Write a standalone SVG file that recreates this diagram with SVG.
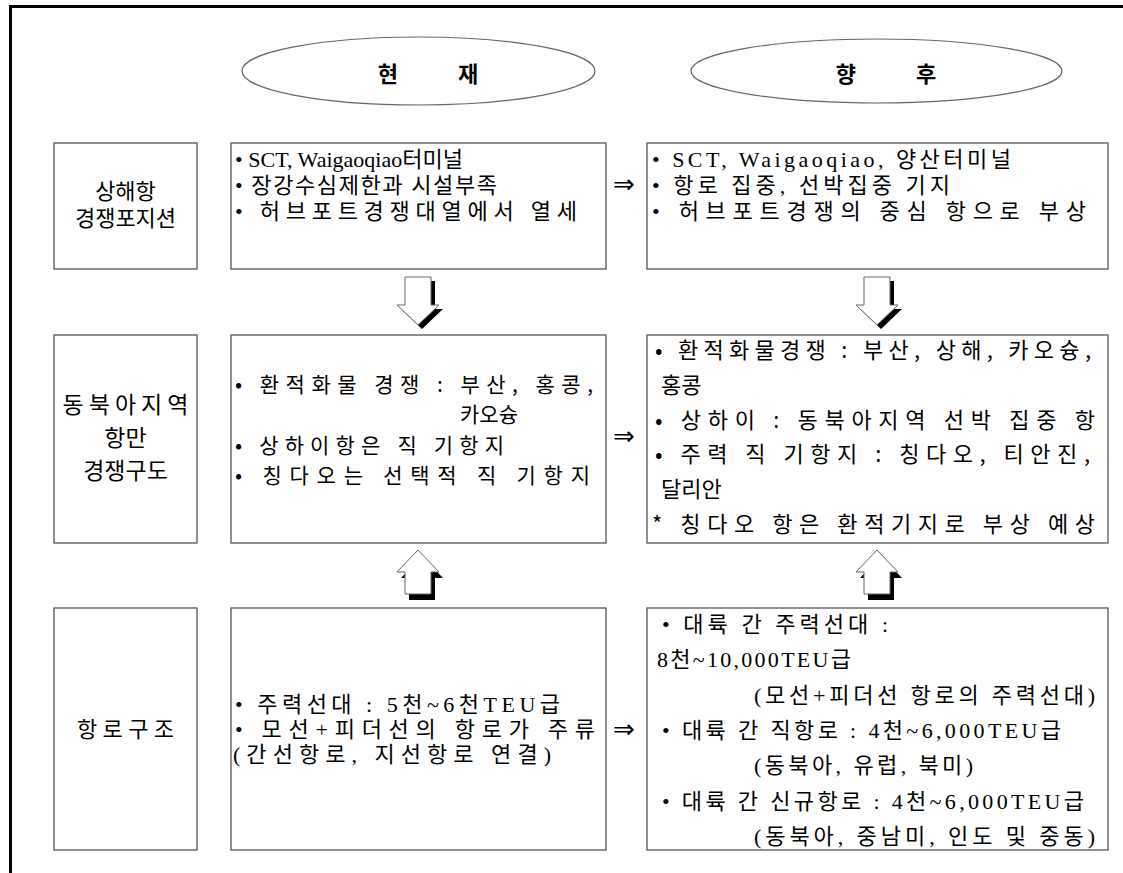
<svg xmlns="http://www.w3.org/2000/svg" width="1123" height="873" viewBox="0 0 1123 873">
<style>
.box{fill:#fff;stroke:#555;stroke-width:1.3}
.ell{fill:#fff;stroke:#666;stroke-width:1.2}
.ser{font-family:'Liberation Serif','Noto Sans CJK KR',serif;font-size:22px;fill:#000}
.gul{font-family:'Noto Sans CJK KR','Liberation Sans',sans-serif;font-size:22px;fill:#000}
.ttl{font-family:'Noto Sans CJK KR',sans-serif;font-size:22px;font-weight:700;fill:#000}
.mid{text-anchor:middle}
.imp{font-family:'DejaVu Sans',sans-serif;font-size:26px;fill:#000}
.sh{fill:#000}
.ar{fill:#fff;stroke:#666;stroke-width:1}
</style>
<defs>
<polygon id="down" points="-13,0 13,0 13,28 21,28 0,48 -21,28 -13,28"/>
<polygon id="up" points="0,0 21,22 13,22 13,44 -13,44 -13,22 -21,22"/>
</defs>
<rect width="1123" height="873" fill="#fff"/>
<g id="frame">
<line x1="9" y1="6.5" x2="1123" y2="6.5" stroke="#000" stroke-width="3"/>
<line x1="10.5" y1="5" x2="10.5" y2="873" stroke="#000" stroke-width="3"/>
</g>
<g id="head-now">
<ellipse class="ell" cx="418.5" cy="71" rx="176.5" ry="34"/>
<text class="ttl mid" x="428" y="82" word-spacing="55">현 재</text>
</g>
<g id="head-future">
<ellipse class="ell" cx="876.5" cy="71" rx="185.5" ry="32"/>
<text class="ttl mid" x="886" y="82" word-spacing="55">향 후</text>
</g>
<g id="label-shanghai">
<rect class="box" x="54" y="143" width="143" height="126"/>
<text class="ser mid" x="125.5" y="199">상해항</text>
<text class="ser mid" x="125.5" y="226" textLength="101" lengthAdjust="spacing">경쟁포지션</text>
</g>
<g id="now-shanghai">
<rect class="box" x="231" y="143" width="375" height="126"/>
<text class="ser" x="235" y="167" textLength="228" lengthAdjust="spacing">• SCT, Waigaoqiao터미널</text>
<text class="ser" x="235" y="193" textLength="262" lengthAdjust="spacing">• 장강수심제한과 시설부족</text>
<text class="ser" x="235" y="219" textLength="342" lengthAdjust="spacing">• 허브포트경쟁대열에서 열세</text>
</g>
<g id="future-shanghai">
<rect class="box" x="647" y="143" width="461" height="126"/>
<text class="ser" x="652" y="167" textLength="359" lengthAdjust="spacing">• SCT, Waigaoqiao, 양산터미널</text>
<text class="ser" x="652" y="193" textLength="298" lengthAdjust="spacing">• 항로 집중, 선박집중 기지</text>
<text class="ser" x="652" y="219" textLength="434" lengthAdjust="spacing">• 허브포트경쟁의 중심 항으로 부상</text>
</g>
<g id="label-northeast">
<rect class="box" x="54" y="335" width="143" height="208"/>
<text class="gul mid" x="125.5" y="413" style="font-size:23px" textLength="126" lengthAdjust="spacing">동북아지역</text>
<text class="gul mid" x="125.5" y="446" style="font-size:23px">항만</text>
<text class="gul mid" x="125.5" y="479" style="font-size:23px">경쟁구도</text>
</g>
<g id="now-northeast">
<rect class="box" x="231" y="335" width="375" height="208"/>
<text class="gul" x="235" y="392" style="font-size:21px" textLength="358" lengthAdjust="spacing">• 환적화물 경쟁 : 부산, 홍콩,</text>
<text class="gul" x="460" y="422" style="font-size:21px">카오슝</text>
<text class="gul" x="235" y="453" style="font-size:21px" textLength="269" lengthAdjust="spacing">• 상하이항은 직 기항지</text>
<text class="gul" x="235" y="483" style="font-size:21px" textLength="355" lengthAdjust="spacing">• 칭다오는 선택적 직 기항지</text>
</g>
<g id="future-northeast">
<rect class="box" x="647" y="335" width="461" height="208"/>
<text class="gul" x="655" y="358" textLength="436" lengthAdjust="spacing">• 환적화물경쟁 : 부산, 상해, 카오슝,</text>
<text class="gul" x="661" y="393">홍콩</text>
<text class="gul" x="655" y="428" textLength="440" lengthAdjust="spacing">• 상하이 : 동북아지역 선박 집중 항</text>
<text class="gul" x="655" y="462" textLength="435" lengthAdjust="spacing">• 주력 직 기항지 : 칭다오, 티안진,</text>
<text class="gul" x="661" y="497">달리안</text>
<text class="gul" x="652" y="532" textLength="443" lengthAdjust="spacing">* 칭다오 항은 환적기지로 부상 예상</text>
</g>
<g id="label-route">
<rect class="box" x="54" y="608" width="143" height="242"/>
<text class="ser mid" x="125.5" y="737" textLength="97" lengthAdjust="spacing">항로구조</text>
</g>
<g id="now-route">
<rect class="box" x="231" y="608" width="375" height="242"/>
<text class="ser" x="235" y="712" textLength="325" lengthAdjust="spacing">• 주력선대 : 5천~6천TEU급</text>
<text class="ser" x="235" y="737" textLength="360" lengthAdjust="spacing">• 모선+피더선의 항로가 주류</text>
<text class="ser" x="233" y="762" textLength="318" lengthAdjust="spacing">(간선항로, 지선항로 연결)</text>
</g>
<g id="future-route">
<rect class="box" x="647" y="608" width="461" height="242"/>
<text class="ser" x="662" y="632" textLength="226" lengthAdjust="spacing">• 대륙 간 주력선대 :</text>
<text class="ser" x="657" y="667" textLength="194" lengthAdjust="spacing">8천~10,000TEU급</text>
<text class="ser" x="754" y="703" textLength="341" lengthAdjust="spacing">(모선+피더선 항로의 주력선대)</text>
<text class="ser" x="662" y="738" textLength="399" lengthAdjust="spacing">• 대륙 간 직항로 : 4천~6,000TEU급</text>
<text class="ser" x="754" y="773" textLength="219" lengthAdjust="spacing">(동북아, 유럽, 북미)</text>
<text class="ser" x="662" y="809" textLength="422" lengthAdjust="spacing">• 대륙 간 신규항로 : 4천~6,000TEU급</text>
<text class="ser" x="754" y="844" textLength="341" lengthAdjust="spacing">(동북아, 중남미, 인도 및 중동)</text>
</g>
<g id="connectors">
<use href="#down" class="sh" x="422" y="281"/>
<use href="#down" class="ar" x="418" y="277"/>
<use href="#down" class="sh" x="881" y="281"/>
<use href="#down" class="ar" x="877" y="277"/>
<use href="#up" class="sh" x="422" y="556"/>
<use href="#up" class="ar" x="418" y="550"/>
<use href="#up" class="sh" x="881" y="556"/>
<use href="#up" class="ar" x="877" y="550"/>
<text class="imp" x="613" y="193">⇒</text>
<text class="imp" x="613" y="445">⇒</text>
<text class="imp" x="613" y="738">⇒</text>
</g>
</svg>
